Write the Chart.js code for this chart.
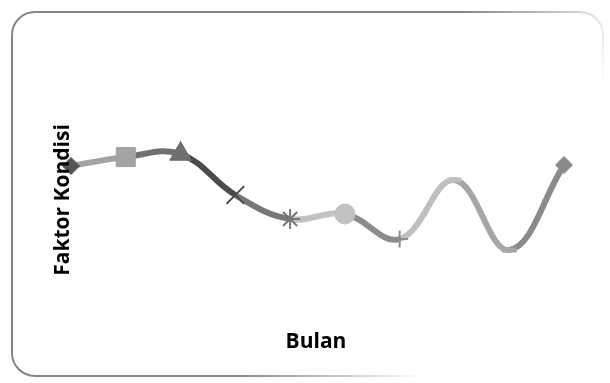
<!DOCTYPE html>
<html>
<head>
<meta charset="utf-8">
<script src="https://cdn.jsdelivr.net/npm/chart.js@4/dist/chart.umd.min.js"></script>
<style>
  html, body { margin: 0; padding: 0; background: #ffffff; }
  canvas { display: block; }
</style>
</head>
<body>
<canvas id="c" width="610" height="383"></canvas>
<script>
// Monthly condition factor
const months = ['Jan', 'Feb', 'Mar', 'Apr', 'Mei', 'Jun', 'Jul', 'Agu', 'Sep', 'Okt'];
const faktorKondisi = [1.17, 1.215, 1.23, 1.025, 0.905, 0.93, 0.805, 1.10, 0.75, 1.175];
const markerStyles = ['rectRot', 'rect', 'triangle', 'crossRot', 'star', 'circle', 'cross', 'line', 'line', 'rectRot'];
const markerSizes = [8.5, 13.5, 12.5, 12.5, 10, 10, 8.5, 7, 7.5, 8.5];
const markerColors = ['#555555', '#a3a3a3', '#6f6f6f', '#4b4b4b', '#777777', '#c2c2c2', '#8c8c8c', '#bfbfbf', '#a6a6a6', '#8a8a8a'];
const markerBorders = [1, 1, 1, 2, 2, 1, 2, 5, 5, 1];
const xTitle = 'Bulan';
const yTitle = 'Faktor Kondisi';

const frameAndTitles = {
  id: 'frameAndTitles',
  beforeDraw(chart) {
    const ctx = chart.ctx;
    ctx.save();
    ctx.fillStyle = '#ffffff';
    ctx.fillRect(0, 0, chart.width, chart.height);
    const g = ctx.createLinearGradient(12, 12, 603, 376);
    g.addColorStop(0, '#858585');
    g.addColorStop(0.55, '#868686');
    g.addColorStop(0.78, '#ffffff');
    g.addColorStop(1, '#ffffff');
    ctx.strokeStyle = g;
    ctx.lineWidth = 2;
    ctx.beginPath();
    ctx.roundRect(12, 12, 591, 364, 23);
    ctx.stroke();
    ctx.restore();
  },
  afterDraw(chart) {
    const ctx = chart.ctx;
    ctx.save();
    ctx.fillStyle = '#000000';
    ctx.font = 'bold 21px "Open Sans", sans-serif';
    ctx.textAlign = 'center';
    ctx.textBaseline = 'alphabetic';
    ctx.fillText(xTitle, 316, 348);
    ctx.translate(69, 200);
    ctx.rotate(-Math.PI / 2);
    ctx.fillText(yTitle, 0, 0);
    ctx.restore();
  }
};

new Chart(document.getElementById('c'), {
  type: 'line',
  data: {
    labels: months,
    datasets: [{
      label: yTitle,
      data: faktorKondisi,
      borderWidth: 6,
      tension: 0.4,
      fill: false,
      clip: false,
      segment: {
        borderColor: c => markerColors[c.p1DataIndex]
      },
      borderColor: '#888888',
      pointStyle: markerStyles,
      pointRadius: markerSizes,
      pointHoverRadius: markerSizes,
      pointBackgroundColor: markerColors,
      pointBorderColor: markerColors,
      pointBorderWidth: markerBorders
    }]
  },
  options: {
    responsive: false,
    animation: false,
    layout: { padding: { left: 71, right: 46, top: 100, bottom: 83 } },
    plugins: { legend: { display: false }, tooltip: { enabled: false } },
    scales: {
      x: { display: false, offset: false },
      y: { display: false, min: 0.5, max: 1.5 }
    }
  },
  plugins: [frameAndTitles]
});
</script>
</body>
</html>
